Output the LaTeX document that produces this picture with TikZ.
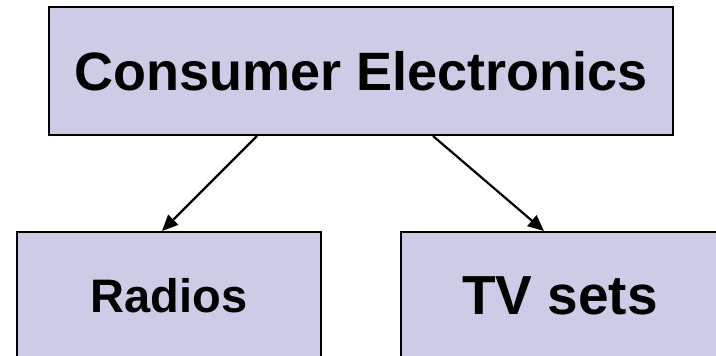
\documentclass[tikz,border=0pt]{standalone}
\usepackage{fontspec}
\setmainfont{Liberation Sans}
\usetikzlibrary{arrows.meta}
\definecolor{boxfill}{RGB}{204,204,230}
\tikzset{
  box/.style={draw=black, line width=2pt, fill=boxfill, inner sep=0pt},
  conn/.style={line width=2.2pt, -{Triangle[length=16pt,width=14pt]}}
}
\begin{document}
\begin{tikzpicture}[x=1pt,y=-1pt]
\useasboundingbox (0,0) rectangle (716,356);
\node[box, minimum width=624pt, minimum height=128pt, font=\bfseries\fontsize{54}{60}\selectfont] (top) at (361,71) {Consumer Electronics};
\node[box, minimum width=304pt, minimum height=128pt, font=\bfseries\fontsize{47}{52}\selectfont] (radios) at (169,296) {Radios};
\node[box, minimum width=318pt, minimum height=128pt, font=\bfseries\fontsize{55}{60}\selectfont] (tv) at (560,296) {TV sets};
\draw[conn] ([xshift=-104pt]top.south) -- ([xshift=-7pt]radios.north);
\draw[conn] ([xshift=72pt]top.south) -- ([xshift=-16pt]tv.north);
\end{tikzpicture}
\end{document}
